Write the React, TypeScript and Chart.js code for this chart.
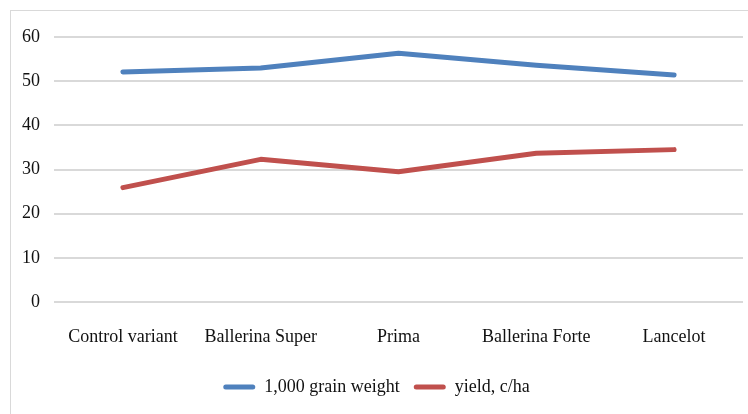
import React, { useEffect, useRef } from "react";
import { Chart, registerables } from "chart.js";

Chart.register(...registerables);

const categories = ["Control variant", "Ballerina Super", "Prima", "Ballerina Forte", "Lancelot"];
const grainWeight = [52.1, 53.0, 56.3, 53.6, 51.4];
const yieldCha = [25.9, 32.3, 29.5, 33.7, 34.5];
const seriesNames = ["1,000 grain weight", "yield, c/ha"];
const yTicks = { min: 0, max: 60, step: 10 };

export default function App() {
  const ref = useRef<HTMLCanvasElement>(null);
  useEffect(() => {
    document.body.style.margin = "0";
    const font = { family: "'Liberation Serif', 'Times New Roman', serif", size: 18 };
    const chart = new Chart(ref.current!, {
      type: "line",
      data: {
        labels: categories,
        datasets: [
          {
            label: seriesNames[0],
            data: grainWeight,
            borderColor: "#4F81BD",
            backgroundColor: "#4F81BD",
            borderWidth: 5,
            pointRadius: 0,
            borderCapStyle: "round",
            borderJoinStyle: "round",
          },
          {
            label: seriesNames[1],
            data: yieldCha,
            borderColor: "#C0504D",
            backgroundColor: "#C0504D",
            borderWidth: 5,
            pointRadius: 0,
            borderCapStyle: "round",
            borderJoinStyle: "round",
          },
        ],
      },
      options: {
        animation: false,
        responsive: false,
        layout: { padding: { left: 10, right: 5, top: 37, bottom: 8 } },
        plugins: {
          tooltip: { enabled: false },
          legend: {
            position: "bottom",
            labels: {
              font,
              color: "#111",
              boxWidth: 32,
              boxHeight: 5,
              padding: 14,
              useBorderRadius: true,
              borderRadius: 2.5,
              generateLabels: (c: any) =>
                Chart.defaults.plugins.legend.labels
                  .generateLabels(c)
                  .map((l: any) => ({ ...l, lineWidth: 0 })),
            },
          },
        },
        scales: {
          x: {
            offset: true,
            grid: { display: false },
            border: { display: false },
            ticks: { font, color: "#111", padding: 16, maxRotation: 0 },
            afterFit: (s: any) => {
              s.height = 62;
            },
          },
          y: {
            min: yTicks.min,
            max: yTicks.max,
            ticks: { stepSize: yTicks.step, font, color: "#111", padding: 14 },
            grid: { color: "#d9d9d9", lineWidth: 2, drawTicks: false },
            border: { display: false },
            afterFit: (s: any) => {
              s.width = 44;
            },
          },
        },
      },
    });
    return () => chart.destroy();
  }, []);
  return (
    <div style={{ position: "relative", width: 748, height: 414, background: "#fff" }}>
      <div
        style={{
          position: "absolute",
          left: 10,
          top: 10,
          right: 0,
          bottom: 0,
          borderLeft: "1px solid #d9d9d9",
          borderTop: "1px solid #d9d9d9",
        }}
      />
      <canvas ref={ref} width={748} height={414} style={{ position: "absolute", left: 0, top: 0 }} />
    </div>
  );
}
